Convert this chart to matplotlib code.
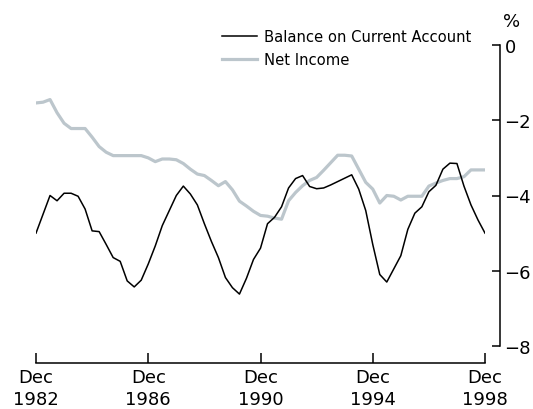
import numpy as np
import matplotlib.pyplot as plt

plt.rcParams['font.family'] = ['DejaVu Sans']

# quarterly observations, Dec 1982 .. Dec 1998 (per cent of GDP)
quarters = np.arange(1982.75, 1998.76, 0.25)

balance = [
    -5.0, -4.5, -4.0, -4.14, -3.94, -3.94, -4.02, -4.36, -4.94, -4.96,
    -5.3, -5.65, -5.75, -6.27, -6.43, -6.25, -5.82, -5.34, -4.8, -4.4,
    -4.0, -3.75, -3.96, -4.25, -4.75, -5.22, -5.65, -6.18, -6.45, -6.62,
    -6.2, -5.7, -5.4, -4.75, -4.58, -4.3, -3.8, -3.55, -3.47, -3.76,
    -3.82, -3.8, -3.72, -3.63, -3.54, -3.45, -3.83, -4.4, -5.3, -6.1,
    -6.3, -5.95, -5.6, -4.9, -4.47, -4.3, -3.9, -3.73, -3.3, -3.14,
    -3.15, -3.75, -4.25, -4.65, -5.0,
]

net_income = [
    -1.54, -1.52, -1.45, -1.8, -2.08, -2.22, -2.22, -2.22, -2.45, -2.7,
    -2.85, -2.94, -2.94, -2.94, -2.94, -2.94, -3.0, -3.1, -3.03, -3.03,
    -3.05, -3.15, -3.3, -3.43, -3.47, -3.6, -3.74, -3.63, -3.85, -4.15,
    -4.28, -4.42, -4.53, -4.55, -4.6, -4.63, -4.14, -3.92, -3.74, -3.6,
    -3.52, -3.33, -3.13, -2.93, -2.93, -2.95, -3.3, -3.65, -3.83, -4.2,
    -4.0, -4.02, -4.12, -4.02, -4.02, -4.02, -3.75, -3.67, -3.6, -3.55,
    -3.55, -3.5, -3.32, -3.32, -3.32,
]

xticks = [1982.75, 1986.75, 1990.75, 1994.75, 1998.75]
xlabels = ['Dec\n1982', 'Dec\n1986', 'Dec\n1990', 'Dec\n1994', 'Dec\n1998']
yticks = [0, -2, -4, -6, -8]

fig = plt.figure(figsize=(5.33, 4.10), dpi=100)
ax = fig.add_axes([36 / 533, 1 - 347 / 410, (485 - 36) / 533, (347 - 46) / 410])

ax.plot(quarters, net_income, color='#bcc6cc', lw=2.3, label='Net Income', zorder=2)
ax.plot(quarters, balance, color='black', lw=1.1, label='Balance on Current Account', zorder=3)

ax.set_xlim(1982.75, 1998.75)
ax.set_ylim(-8, 0)

for s in ['top', 'left']:
    ax.spines[s].set_visible(False)
ax.spines['bottom'].set_position(('outward', 12))
ax.spines['right'].set_position(('outward', 11))
for s in ['bottom', 'right']:
    ax.spines[s].set_linewidth(1.1)

ax.yaxis.tick_right()
ax.set_yticks(yticks)
ax.set_yticklabels(['0' if v == 0 else '\u2212%d' % abs(v) for v in yticks])
ax.set_xticks(xticks)
ax.set_xticklabels(xlabels, linespacing=1.3)
ax.tick_params(axis='y', direction='in', length=6, width=1.1, labelsize=13, pad=3)
ax.tick_params(axis='x', direction='in', length=7, width=1.1, labelsize=13, pad=4)

fig.text(512 / 533, 1 - 22 / 410, '%', ha='center', va='center', fontsize=13)

handles, labels = ax.get_legend_handles_labels()
ax.legend(handles[::-1], labels[::-1], loc='upper left',
          bbox_to_anchor=(222 / 533, 1 - 30 / 410), bbox_transform=fig.transFigure,
          frameon=False, fontsize=10.6, handlelength=2.4, handletextpad=0.45,
          labelspacing=0.55, borderaxespad=0, borderpad=0)

fig.savefig('out.png', dpi=100)
